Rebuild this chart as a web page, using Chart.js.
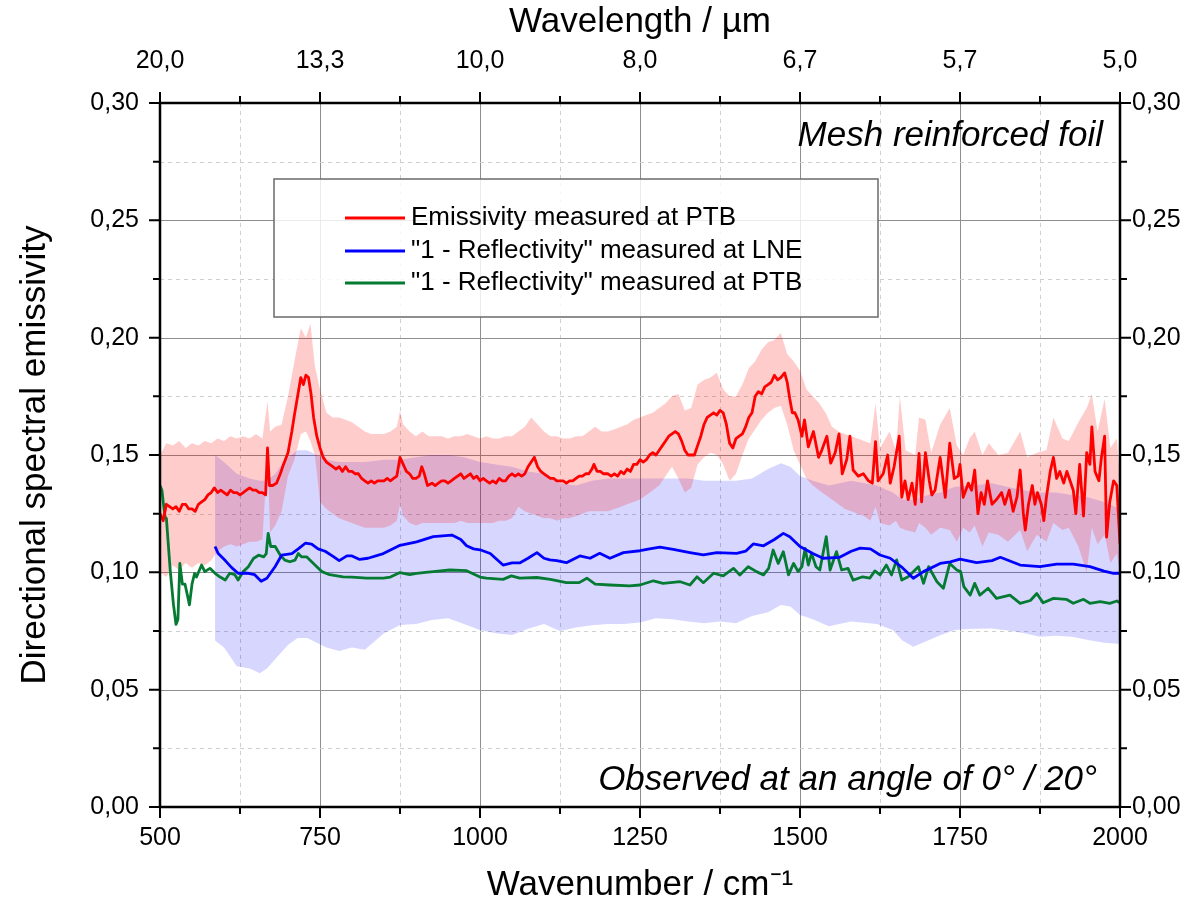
<!DOCTYPE html>
<html><head><meta charset="utf-8">
<script src="https://cdn.jsdelivr.net/npm/chart.js@4/dist/chart.umd.min.js"></script>
<style>html,body{margin:0;padding:0;background:#fff}#wrap{width:1204px;height:911px}</style>
</head><body><div id="wrap"><canvas id="c" width="1204" height="911"></canvas></div>
<script>
const FONT = '"Liberation Sans", Arial, sans-serif';
const wavenumberTicks = [500, 750, 1000, 1250, 1500, 1750, 2000];
const wavelengthLabels = ['20,0', '13,3', '10,0', '8,0', '6,7', '5,7', '5,0'];
const emissivityTicks = [0, 0.05, 0.10, 0.15, 0.20, 0.25, 0.30];
const emissivityLabels = ['0,00', '0,05', '0,10', '0,15', '0,20', '0,25', '0,30'];
const seriesNames = ['Emissivity measured at PTB', '"1 - Reflectivity" measured at LNE', '"1 - Reflectivity" measured at PTB'];
const seriesColors = ['#ff0000', '#0000ff', '#057a33'];
const noteTop = 'Mesh reinforced foil';
const noteBottom = 'Observed at an angle of 0° / 20°';

// [wavenumber, emissivity]
const redLine = [
[500,0.125],[505,0.122],[510,0.129],[515,0.128],[520,0.127],[525,0.128],[530,0.126],[535,0.129],[540,0.129],[545,0.127],
[550,0.127],[555,0.126],[560,0.129],[565,0.130],[570,0.131],[575,0.133],[580,0.134],[585,0.136],[590,0.134],[595,0.135],
[600,0.134],[605,0.133],[610,0.135],[615,0.134],[620,0.134],[625,0.133],[630,0.134],[635,0.135],[640,0.136],[645,0.135],
[650,0.135],[655,0.134],[660,0.134],[665,0.133],[668,0.153],[671,0.137],[676,0.137],[682,0.138],[688,0.142],[693,0.146],
[700,0.151],[706,0.160],[710,0.167],[715,0.175],[720,0.183],[724,0.180],[728,0.184],[732,0.183],[736,0.176],[740,0.166],
[745,0.158],[750,0.153],[755,0.149],[760,0.147],[765,0.146],[770,0.145],[775,0.144],[780,0.145],[785,0.143],[790,0.145],
[795,0.143],[800,0.143],[805,0.142],[810,0.142],[815,0.140],[820,0.139],[825,0.138],[830,0.139],[835,0.138],[840,0.139],
[845,0.139],[850,0.139],[855,0.140],[860,0.139],[865,0.140],[870,0.141],[875,0.149],[880,0.146],[885,0.143],[890,0.142],
[895,0.140],[900,0.140],[905,0.141],[909,0.145],[913,0.142],[918,0.137],[925,0.138],[930,0.137],[935,0.138],[940,0.139],
[945,0.139],[950,0.138],[955,0.139],[960,0.140],[965,0.141],[970,0.142],[975,0.140],[980,0.141],[985,0.142],[990,0.140],
[995,0.141],[1000,0.139],[1005,0.140],[1010,0.139],[1015,0.138],[1020,0.139],[1025,0.138],[1030,0.140],[1035,0.139],[1040,0.139],
[1045,0.141],[1050,0.142],[1055,0.141],[1060,0.142],[1065,0.141],[1070,0.142],[1075,0.145],[1080,0.147],[1085,0.149],[1090,0.145],
[1095,0.143],[1100,0.142],[1105,0.141],[1110,0.140],[1115,0.140],[1120,0.139],[1125,0.139],[1130,0.139],[1135,0.138],[1140,0.139],
[1145,0.139],[1150,0.140],[1155,0.141],[1160,0.141],[1165,0.142],[1170,0.142],[1175,0.144],[1178,0.146],[1183,0.143],[1188,0.143],
[1193,0.142],[1200,0.142],[1205,0.141],[1210,0.142],[1215,0.141],[1220,0.143],[1225,0.142],[1230,0.144],[1235,0.143],[1240,0.146],
[1245,0.146],[1250,0.148],[1255,0.147],[1260,0.148],[1265,0.150],[1270,0.151],[1275,0.150],[1280,0.152],[1285,0.154],[1290,0.156],
[1295,0.158],[1300,0.159],[1305,0.160],[1310,0.159],[1315,0.156],[1320,0.152],[1325,0.150],[1330,0.150],[1335,0.150],[1340,0.154],
[1345,0.158],[1350,0.163],[1355,0.166],[1360,0.167],[1365,0.168],[1370,0.167],[1375,0.169],[1380,0.168],[1385,0.163],[1390,0.155],
[1395,0.153],[1400,0.157],[1405,0.158],[1410,0.159],[1415,0.162],[1420,0.166],[1425,0.168],[1430,0.175],[1435,0.177],[1440,0.176],
[1445,0.179],[1450,0.180],[1455,0.181],[1460,0.184],[1465,0.182],[1470,0.183],[1476,0.185],[1480,0.181],[1484,0.174],[1488,0.168],
[1492,0.168],[1497,0.165],[1503,0.158],[1507,0.165],[1513,0.1535],[1521,0.160],[1529,0.149],[1534,0.152],[1542,0.158],[1548,0.1465],
[1555,0.151],[1561,0.159],[1566,0.142],[1573,0.148],[1578,0.158],[1583,0.1436],[1591,0.141],[1599,0.142],[1607,0.139],[1613,0.138],
[1618,0.1557],[1622,0.139],[1630,0.142],[1637,0.150],[1641,0.138],[1647,0.145],[1655,0.158],[1659,0.132],[1664,0.139],[1669,0.131],
[1675,0.138],[1680,0.129],[1686,0.1507],[1690,0.130],[1696,0.151],[1702,0.139],[1706,0.133],[1711,0.135],[1719,0.149],[1727,0.132],
[1734,0.155],[1741,0.140],[1747,0.141],[1750,0.146],[1755,0.132],[1763,0.138],[1768,0.135],[1773,0.1436],[1778,0.125],[1783,0.134],
[1788,0.129],[1793,0.139],[1800,0.129],[1807,0.131],[1815,0.134],[1820,0.129],[1827,0.135],[1833,0.126],[1839,0.132],[1844,0.1436],
[1849,0.125],[1852,0.118],[1857,0.129],[1863,0.137],[1867,0.129],[1871,0.134],[1877,0.129],[1881,0.122],[1885,0.132],[1891,0.143],
[1896,0.149],[1901,0.140],[1906,0.143],[1912,0.138],[1917,0.143],[1922,0.139],[1927,0.135],[1931,0.125],[1937,0.146],[1943,0.124],
[1948,0.151],[1953,0.146],[1956,0.162],[1961,0.143],[1967,0.139],[1971,0.149],[1976,0.158],[1979,0.115],[1984,0.130],[1990,0.139],
[1995,0.137],[2000,0.112]
];

// [wavenumber, upper, lower]
const redBand = [
[500,0.150,0.100],[510,0.155,0.098],[520,0.154,0.103],[530,0.156,0.101],[540,0.153,0.104],[550,0.155,0.102],[560,0.154,0.104],[570,0.156,0.103],[580,0.155,0.105],[590,0.157,0.109],
[600,0.156,0.111],[610,0.158,0.112],[620,0.157,0.111],[630,0.158,0.112],[640,0.157,0.113],[650,0.159,0.113],[660,0.157,0.114],[668,0.173,0.150],[672,0.160,0.117],[680,0.162,0.120],
[690,0.163,0.126],[700,0.175,0.141],[710,0.190,0.148],[720,0.204,0.159],[728,0.200,0.160],[735,0.206,0.156],[742,0.188,0.150],[750,0.178,0.130],[760,0.168,0.127],[770,0.166,0.125],
[780,0.166,0.123],[790,0.165,0.122],[800,0.164,0.121],[810,0.162,0.120],[820,0.160,0.119],[830,0.159,0.119],[840,0.159,0.119],[850,0.159,0.119],[860,0.160,0.120],[870,0.162,0.122],
[875,0.169,0.129],[880,0.163,0.124],[890,0.160,0.121],[900,0.158,0.120],[910,0.160,0.121],[920,0.158,0.121],[930,0.158,0.121],[940,0.158,0.121],[950,0.157,0.121],[960,0.158,0.121],
[970,0.158,0.122],[980,0.159,0.121],[990,0.158,0.121],[1000,0.157,0.121],[1010,0.158,0.121],[1020,0.157,0.121],[1030,0.157,0.122],[1040,0.158,0.122],[1050,0.158,0.123],[1060,0.160,0.128],
[1070,0.162,0.126],[1080,0.166,0.125],[1090,0.163,0.124],[1100,0.160,0.123],[1110,0.158,0.123],[1120,0.158,0.122],[1130,0.157,0.123],[1140,0.157,0.123],[1150,0.158,0.124],[1160,0.158,0.125],
[1170,0.160,0.126],[1180,0.162,0.126],[1190,0.160,0.126],[1200,0.160,0.126],[1210,0.161,0.127],[1220,0.162,0.128],[1230,0.163,0.129],[1240,0.165,0.130],[1250,0.166,0.131],[1260,0.167,0.133],
[1270,0.168,0.135],[1280,0.170,0.137],[1290,0.172,0.141],[1300,0.175,0.145],[1310,0.176,0.140],[1320,0.169,0.134],[1330,0.170,0.136],[1340,0.180,0.146],[1350,0.182,0.149],[1360,0.183,0.151],
[1370,0.185,0.150],[1380,0.178,0.146],[1390,0.175,0.139],[1400,0.175,0.142],[1410,0.180,0.150],[1420,0.187,0.157],[1430,0.190,0.161],[1440,0.195,0.165],[1450,0.198,0.168],[1460,0.199,0.170],
[1470,0.202,0.171],[1480,0.193,0.163],[1490,0.190,0.152],[1500,0.186,0.146],[1510,0.178,0.140],[1520,0.175,0.137],[1530,0.172,0.135],[1540,0.168,0.133],[1550,0.162,0.131],[1560,0.160,0.129],
[1570,0.159,0.127],[1580,0.158,0.126],[1590,0.157,0.125],[1600,0.156,0.124],[1610,0.155,0.122],[1618,0.172,0.128],[1625,0.153,0.121],[1640,0.160,0.120],[1650,0.152,0.122],[1656,0.175,0.119],
[1665,0.152,0.118],[1680,0.150,0.117],[1686,0.166,0.121],[1696,0.165,0.119],[1705,0.151,0.116],[1719,0.163,0.119],[1734,0.170,0.118],[1745,0.154,0.113],[1755,0.150,0.119],[1765,0.157,0.117],
[1773,0.160,0.120],[1785,0.150,0.111],[1795,0.155,0.117],[1810,0.150,0.116],[1825,0.151,0.113],[1844,0.160,0.118],[1855,0.149,0.109],[1870,0.151,0.116],[1885,0.152,0.113],[1896,0.166,0.121],
[1910,0.157,0.118],[1920,0.156,0.119],[1935,0.164,0.111],[1948,0.170,0.100],[1956,0.176,0.119],[1965,0.160,0.112],[1976,0.174,0.116],[1985,0.153,0.104],[1995,0.157,0.108],[2000,0.140,0.100]
];

const lneLine = [
[586,0.111],[591,0.108],[602,0.105],[612,0.102],[622,0.0996],[638,0.0996],[648,0.099],[658,0.0962],[667,0.0975],[680,0.1025],
[690,0.1073],[706,0.108],[716,0.110],[727,0.1124],[737,0.112],[747,0.110],[758,0.109],[771,0.1067],[780,0.105],[792,0.107],
[800,0.107],[812,0.1055],[825,0.106],[849,0.108],[875,0.1115],[901,0.113],[927,0.1152],[956,0.1159],[970,0.114],[979,0.1113],
[990,0.110],[1000,0.1096],[1016,0.108],[1036,0.1031],[1050,0.104],[1062,0.104],[1075,0.106],[1089,0.1084],[1100,0.106],[1109,0.1053],
[1120,0.105],[1135,0.1041],[1156,0.107],[1172,0.106],[1187,0.1081],[1203,0.106],[1224,0.1084],[1250,0.1092],[1265,0.110],[1281,0.1107],
[1302,0.1098],[1328,0.1084],[1349,0.1074],[1370,0.1084],[1401,0.1081],[1415,0.109],[1427,0.1121],[1443,0.1113],[1460,0.114],[1474,0.1166],
[1484,0.1152],[1500,0.111],[1520,0.108],[1536,0.106],[1562,0.1064],[1580,0.109],[1594,0.1103],[1610,0.110],[1625,0.1074],[1641,0.106],
[1660,0.102],[1677,0.0975],[1693,0.1003],[1719,0.1038],[1735,0.1045],[1750,0.1056],[1776,0.1041],[1800,0.105],[1813,0.1064],[1844,0.1031],
[1875,0.1024],[1901,0.1035],[1927,0.1035],[1953,0.1024],[1975,0.1005],[1990,0.0996],[2000,0.0996]
];

const lneBand = [
[586,0.150,0.071],[600,0.147,0.068],[620,0.142,0.060],[640,0.140,0.059],[656,0.139,0.057],[667,0.139,0.059],[680,0.142,0.063],[690,0.146,0.066],[700,0.149,0.069],[715,0.152,0.072],
[730,0.152,0.072],[745,0.150,0.070],[760,0.148,0.068],[780,0.147,0.0665],[800,0.147,0.068],[820,0.147,0.067],[850,0.148,0.074],[875,0.148,0.0776],[900,0.149,0.078],[925,0.150,0.0797],
[950,0.150,0.0804],[975,0.149,0.078],[1000,0.147,0.0754],[1025,0.146,0.074],[1050,0.145,0.0733],[1075,0.143,0.076],[1100,0.142,0.078],[1125,0.138,0.075],[1150,0.137,0.0765],[1175,0.139,0.0775],
[1200,0.140,0.078],[1225,0.140,0.078],[1250,0.140,0.0786],[1275,0.140,0.0804],[1300,0.140,0.080],[1325,0.140,0.079],[1350,0.139,0.0783],[1375,0.139,0.079],[1400,0.139,0.0783],[1425,0.140,0.0814],
[1450,0.144,0.083],[1470,0.1465,0.0861],[1485,0.145,0.0854],[1500,0.141,0.0818],[1520,0.139,0.080],[1545,0.137,0.077],[1580,0.139,0.079],[1620,0.137,0.078],[1645,0.134,0.0754],[1660,0.131,0.071],
[1677,0.131,0.0683],[1700,0.133,0.071],[1720,0.134,0.0733],[1742,0.1365,0.0754],[1770,0.137,0.076],[1800,0.138,0.0761],[1830,0.136,0.075],[1850,0.135,0.074],[1875,0.134,0.0726],[1900,0.134,0.073],
[1925,0.133,0.0725],[1950,0.132,0.0712],[1975,0.130,0.070],[2000,0.127,0.0695]
];

const ptbLine = [
[500,0.137],[503,0.135],[505,0.130],[508,0.1236],[510,0.123],[516,0.1007],[521,0.0864],[525,0.0778],[528,0.080],[531,0.1038],
[535,0.095],[539,0.095],[543,0.090],[546,0.0861],[550,0.095],[554,0.0995],[557,0.098],[565,0.1031],[570,0.1003],[578,0.1017],
[586,0.0996],[594,0.098],[602,0.0967],[609,0.0996],[617,0.099],[622,0.0967],[630,0.1003],[638,0.1024],[646,0.1059],[654,0.1073],
[662,0.1066],[666,0.108],[669,0.1166],[673,0.111],[680,0.111],[688,0.1073],[695,0.1052],[703,0.1045],[711,0.1052],[716,0.108],
[721,0.1066],[729,0.1066],[737,0.1045],[745,0.1024],[753,0.1003],[765,0.099],[786,0.0981],[800,0.098],[823,0.0975],[849,0.0975],
[860,0.098],[875,0.0999],[890,0.099],[901,0.0996],[915,0.100],[927,0.1003],[953,0.1010],[979,0.1007],[1000,0.098],[1010,0.0975],
[1036,0.0970],[1049,0.0985],[1062,0.0975],[1089,0.0978],[1110,0.097],[1135,0.0956],[1155,0.0956],[1167,0.0975],[1180,0.095],[1203,0.0946],
[1234,0.0942],[1250,0.0946],[1271,0.0964],[1286,0.0953],[1313,0.0960],[1328,0.0946],[1339,0.0981],[1349,0.0956],[1365,0.0996],[1380,0.0985],
[1396,0.1017],[1406,0.0989],[1419,0.1024],[1432,0.1003],[1443,0.0989],[1451,0.1017],[1458,0.1095],[1466,0.1038],[1474,0.1088],[1482,0.0989],
[1490,0.1038],[1497,0.1003],[1503,0.1024],[1508,0.1102],[1513,0.1031],[1518,0.1081],[1525,0.1024],[1531,0.101],[1541,0.1152],[1547,0.101],
[1557,0.1088],[1565,0.101],[1575,0.1017],[1583,0.0967],[1598,0.0981],[1609,0.0975],[1617,0.1006],[1625,0.0989],[1635,0.1031],[1643,0.0989],
[1651,0.1053],[1659,0.0967],[1669,0.0981],[1685,0.1024],[1693,0.0953],[1701,0.1024],[1714,0.0960],[1724,0.0932],[1734,0.1038],[1745,0.101],
[1751,0.1003],[1756,0.0939],[1766,0.0903],[1773,0.0953],[1781,0.0903],[1794,0.0932],[1807,0.0889],[1828,0.0903],[1844,0.0868],[1860,0.088],
[1870,0.0910],[1880,0.0870],[1896,0.0889],[1916,0.0885],[1927,0.0868],[1943,0.0885],[1953,0.0868],[1969,0.0875],[1984,0.0868],[1995,0.0878],
[2000,0.0870]
];

const pts = (arr, k) => arr.map(r => ({x: r[0], y: r[k]}));
const isMajorX = v => wavenumberTicks.includes(v);
const yIndex = v => emissivityTicks.findIndex(e => Math.abs(e - v) < 1e-9);
const isMajorY = v => yIndex(v) >= 0;

const lineDs = (i, arr) => ({
  label: seriesNames[i], data: pts(arr, 1), borderColor: seriesColors[i], borderWidth: 2.8,
  pointRadius: 0, fill: false, order: 0, tension: 0, borderJoinStyle: 'round'
});
const edgeDs = (label, data, fill, bg, order) => ({
  label, data, borderColor: 'rgba(0,0,0,0)', borderWidth: 0, pointRadius: 0,
  fill, backgroundColor: bg, order, tension: 0
});

const decor = {
  id: 'decor',
  beforeDatasetsDraw(chart) {
    const {ctx, chartArea: a, scales: {x, y}} = chart;
    ctx.save();
    ctx.lineWidth = 1;
    x.ticks.forEach(t => {
      const p = Math.round(x.getPixelForValue(t.value)) + 0.5;
      const major = isMajorX(t.value);
      ctx.strokeStyle = major ? '#8e8e8e' : '#cfcfcf';
      ctx.setLineDash(major ? [] : [4, 4]);
      ctx.beginPath(); ctx.moveTo(p, a.top); ctx.lineTo(p, a.bottom); ctx.stroke();
    });
    y.ticks.forEach(t => {
      const p = Math.round(y.getPixelForValue(t.value)) + 0.5;
      const major = isMajorY(t.value);
      ctx.strokeStyle = major ? '#8e8e8e' : '#cfcfcf';
      ctx.setLineDash(major ? [] : [4, 4]);
      ctx.beginPath(); ctx.moveTo(a.left, p); ctx.lineTo(a.right, p); ctx.stroke();
    });
    ctx.restore();
  },
  afterDatasetsDraw(chart) {
    const {ctx, chartArea: a} = chart;
    const bx = a.left + 114, by = a.top + 76, bw = 604, bh = 138;
    ctx.save();
    ctx.fillStyle = 'rgba(255,255,255,0.82)';
    ctx.fillRect(bx, by, bw, bh);
    ctx.strokeStyle = '#6a6a6a'; ctx.lineWidth = 1.5;
    ctx.strokeRect(bx, by, bw, bh);
    ctx.font = '26px ' + FONT; ctx.fillStyle = '#000'; ctx.textBaseline = 'middle'; ctx.textAlign = 'left';
    const rows = [39, 72, 104];
    seriesNames.forEach((n, i) => {
      const yy = by + rows[i];
      ctx.strokeStyle = seriesColors[i]; ctx.lineWidth = 2.8;
      ctx.beginPath(); ctx.moveTo(bx + 71, yy); ctx.lineTo(bx + 131, yy); ctx.stroke();
      ctx.fillText(n, bx + 137, yy);
    });
    ctx.restore();
  },
  afterDraw(chart) {
    const {ctx, chartArea: a, scales: {x, y}} = chart;
    ctx.save();
    ctx.strokeStyle = '#000';
    ctx.lineWidth = 2;
    x.ticks.forEach(t => {
      const p = x.getPixelForValue(t.value);
      const L = isMajorX(t.value) ? 11 : 7;
      ctx.beginPath();
      ctx.moveTo(p, a.bottom); ctx.lineTo(p, a.bottom + L);
      ctx.moveTo(p, a.top); ctx.lineTo(p, a.top - L);
      ctx.stroke();
    });
    y.ticks.forEach(t => {
      const p = y.getPixelForValue(t.value);
      const L = isMajorY(t.value) ? 11 : 7;
      ctx.beginPath();
      ctx.moveTo(a.left, p); ctx.lineTo(a.left - L, p);
      ctx.moveTo(a.right, p); ctx.lineTo(a.right + L, p);
      ctx.stroke();
    });
    ctx.lineWidth = 2.5;
    ctx.strokeRect(a.left, a.top, a.right - a.left, a.bottom - a.top);
    ctx.fillStyle = '#000';
    ctx.font = 'italic 35px ' + FONT;
    ctx.textAlign = 'right'; ctx.textBaseline = 'alphabetic';
    ctx.fillText(noteTop, a.right - 17, a.top + 43);
    ctx.fillText(noteBottom, a.right - 23, a.bottom - 17);
    ctx.restore();
  }
};

const tickFont = {family: FONT, size: 25};
const titleFont = {family: FONT, size: 35};

new Chart(document.getElementById('c'), {
  type: 'line',
  data: {
    datasets: [
      lineDs(0, redLine),
      lineDs(1, lneLine),
      lineDs(2, ptbLine),
      edgeDs('PTB upper', pts(redBand, 1), '+1', 'rgba(255,0,0,0.2)', 1),
      edgeDs('PTB lower', pts(redBand, 2), false, 'rgba(0,0,0,0)', 1),
      edgeDs('LNE upper', pts(lneBand, 1), '+1', 'rgba(0,0,255,0.16)', 2),
      edgeDs('LNE lower', pts(lneBand, 2), false, 'rgba(0,0,0,0)', 2)
    ]
  },
  options: {
    responsive: false, animation: false, devicePixelRatio: 1,
    layout: {padding: 0},
    plugins: {legend: {display: false}, tooltip: {enabled: false}},
    scales: {
      x: {
        type: 'linear', position: 'bottom', min: 500, max: 2000,
        grid: {display: false, drawTicks: false}, border: {display: false},
        ticks: {stepSize: 125, autoSkip: false, maxRotation: 0, padding: 16, color: '#000', font: tickFont,
          callback: v => isMajorX(v) ? String(v) : ''},
        title: {display: true, text: 'Wavenumber / cm⁻¹', color: '#000', font: titleFont, padding: {top: 0, bottom: 5}},
        afterFit: s => { s.height = 104; }
      },
      x2: {
        type: 'linear', position: 'top', min: 500, max: 2000,
        grid: {display: false, drawTicks: false}, border: {display: false},
        ticks: {stepSize: 125, autoSkip: false, maxRotation: 0, padding: 27, color: '#000', font: tickFont,
          callback: v => { const i = wavenumberTicks.indexOf(v); return i >= 0 ? wavelengthLabels[i] : ''; }},
        title: {display: true, text: 'Wavelength / µm', color: '#000', font: titleFont, padding: {top: 1, bottom: 0}},
        afterFit: s => { s.height = 103; }
      },
      y: {
        type: 'linear', position: 'left', min: 0, max: 0.3,
        grid: {display: false, drawTicks: false}, border: {display: false},
        ticks: {stepSize: 0.025, autoSkip: false, padding: 21, color: '#000', font: tickFont,
          callback: v => { const i = yIndex(v); return i >= 0 ? emissivityLabels[i] : ''; }},
        title: {display: true, text: 'Directional spectral emissivity', color: '#000', font: titleFont, padding: {top: 14, bottom: 0}},
        afterFit: s => { s.width = 160; }
      },
      y2: {
        type: 'linear', position: 'right', min: 0, max: 0.3,
        grid: {display: false, drawTicks: false}, border: {display: false},
        ticks: {stepSize: 0.025, autoSkip: false, padding: 12, color: '#000', font: tickFont,
          callback: v => { const i = yIndex(v); return i >= 0 ? emissivityLabels[i] : ''; }},
        afterFit: s => { s.width = 84; }
      }
    }
  },
  plugins: [decor]
});
</script>
</body></html>
